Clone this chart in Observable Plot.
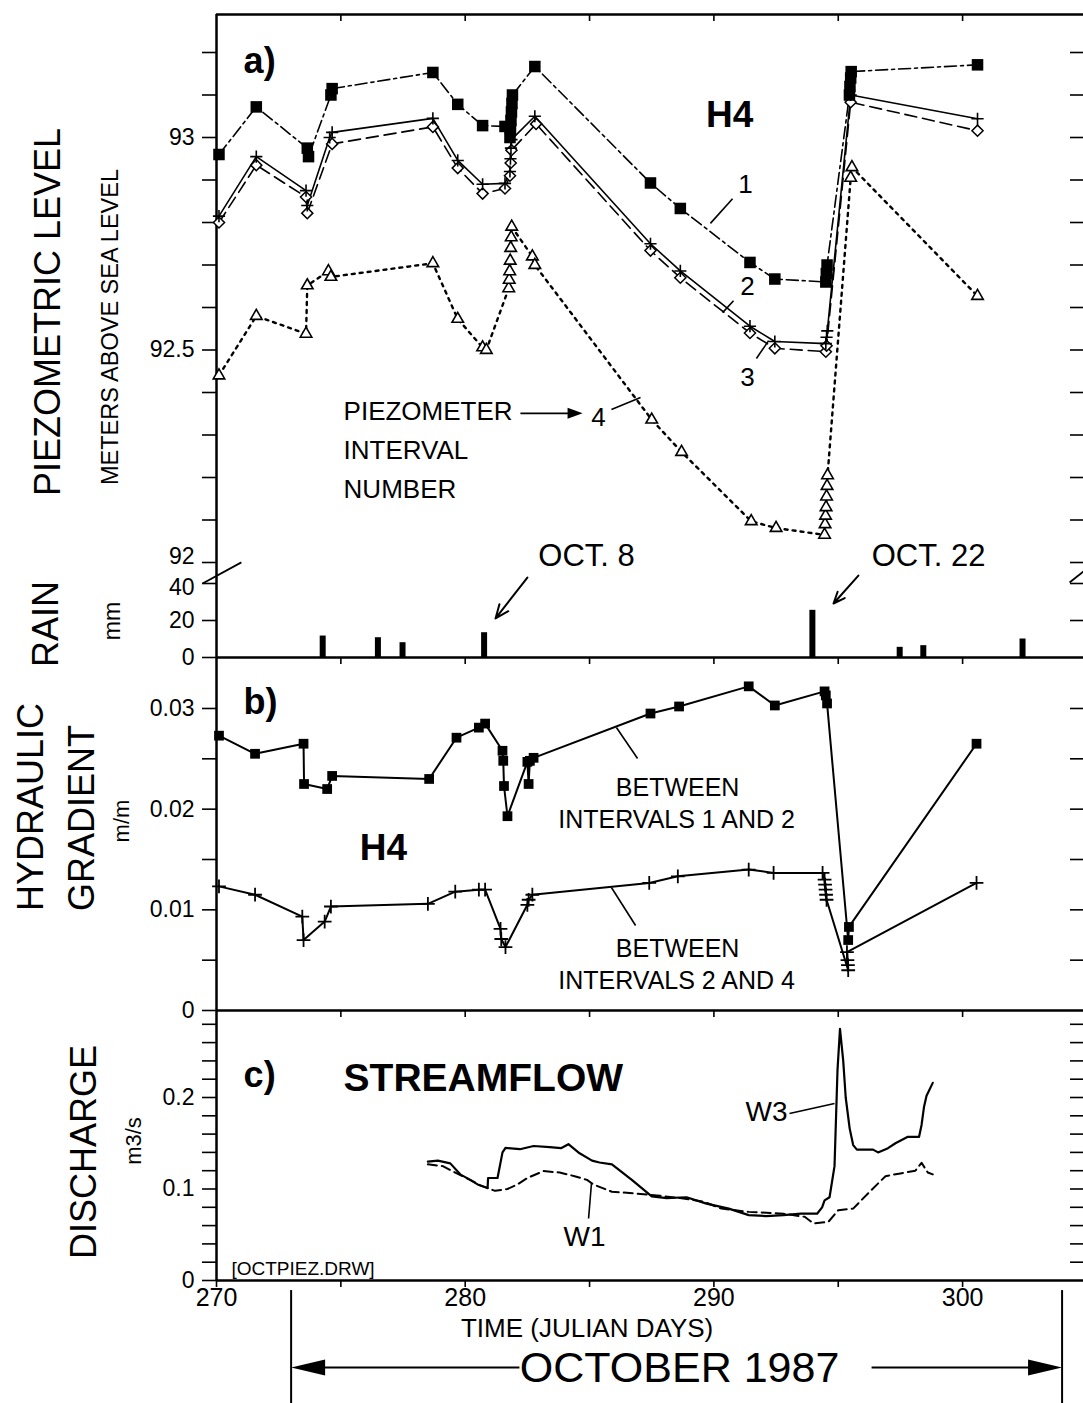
<!DOCTYPE html>
<html><head><meta charset="utf-8">
<script src="https://cdn.jsdelivr.net/npm/d3@7/dist/d3.min.js"></script>
<script src="https://cdn.jsdelivr.net/npm/@observablehq/plot@0.6/dist/plot.umd.min.js"></script>
<style>
html,body{margin:0;padding:0;background:#fff;}
#fig{position:relative;width:1083px;height:1403px;overflow:hidden;background:#fff;font-family:"Liberation Sans",Arial,sans-serif;}
</style></head>
<body><div id="fig"></div>
<script>
// ---------------- DATA ----------------
// a) piezometric level, m above sea level  [julian day, level]
const interval1 = [[270.1,92.96],[271.6,93.072],[273.65,92.975],[273.7,92.955],[274.6,93.10],[274.65,93.115],
  [278.7,93.153],[279.7,93.078],[280.7,93.028],[281.6,93.026],[281.8,93.00],[281.82,93.02],[281.84,93.04],
  [281.86,93.06],[281.88,93.08],[281.9,93.10],[282.8,93.167],[287.45,92.893],[288.65,92.833],[291.45,92.706],
  [292.45,92.667],[294.5,92.66],[294.52,92.68],[294.55,92.70],[295.45,93.10],[295.47,93.12],[295.5,93.14],
  [295.52,93.155],[300.6,93.171]];
const interval2 = [[270.1,92.815],[271.6,92.955],[273.6,92.875],[273.65,92.84],[274.55,93.0],[274.65,93.012],
  [278.7,93.045],[279.7,92.946],[280.7,92.89],[281.6,92.892],[281.8,92.92],[281.82,92.95],[281.84,92.975],
  [281.86,92.995],[282.8,93.05],[287.45,92.75],[288.65,92.686],[291.45,92.556],[292.45,92.52],[294.5,92.515],
  [294.53,92.53],[294.56,92.545],[295.5,93.10],[300.6,93.044]];
const interval3 = [[270.1,92.80],[271.6,92.935],[273.6,92.86],[273.65,92.822],[274.65,92.985],[278.7,93.025],
  [279.7,92.928],[280.7,92.868],[281.6,92.88],[281.8,92.91],[281.83,92.94],[281.86,92.97],[282.85,93.032],
  [287.45,92.734],[288.65,92.67],[291.45,92.54],[292.45,92.504],[294.5,92.496],[294.53,92.51],[295.5,93.083],
  [300.6,93.016]];
const interval4 = [[270.1,92.44],[271.6,92.58],[273.6,92.538],[273.65,92.652],[274.5,92.685],[274.6,92.672],
  [278.7,92.704],[279.7,92.573],[280.7,92.506],[280.85,92.50],[281.75,92.645],[281.77,92.665],[281.79,92.685],
  [281.81,92.71],[281.83,92.74],[281.85,92.765],[281.87,92.79],[282.7,92.72],[282.8,92.70],[287.5,92.336],
  [288.7,92.26],[291.5,92.097],[292.5,92.081],[294.45,92.065],[294.47,92.09],[294.49,92.11],[294.51,92.13],
  [294.53,92.155],[294.55,92.18],[294.57,92.205],[295.5,92.905],[295.55,92.93],[300.6,92.627]];
const levelTicks = [92,92.1,92.2,92.3,92.4,92.5,92.6,92.7,92.8,92.9,93,93.1,93.2];
const levelLabels = {92.5:"92.5", 93:"93"};
const levelBottomLabel = [92];

// rain, mm
const rainDays = [274.27,276.49,277.48,280.76,293.96,297.47,298.42,302.41];
const rainMm   = [11.6,10.7,8.0,13.4,25.5,5.5,6.4,10.0];
const rainTicks = [0,20,40];
const rainLabels = {0:"0", 20:"20"};
const rainTopLabel = [40];

// b) hydraulic gradient, m/m
const gradient12 = [[270.1,0.0273],[271.55,0.0255],[273.5,0.0265],[273.52,0.0225],[274.45,0.0220],[274.65,0.0233],
  [278.55,0.0230],[279.65,0.0271],[280.55,0.0281],[280.8,0.0285],[281.5,0.0258],[281.53,0.0248],[281.56,0.0223],
  [281.7,0.0193],[282.5,0.0247],[282.55,0.0225],[282.6,0.0248],[282.75,0.0251],[287.45,0.0295],[288.6,0.0302],
  [291.4,0.0322],[292.45,0.0303],[294.45,0.0317],[294.5,0.0313],[294.55,0.0305],[295.4,0.0070],[295.43,0.0083],
  [300.56,0.0265]];
const gradient24 = [[270.1,0.01233],[271.55,0.0115],[273.45,0.00933],[273.5,0.0070],[274.35,0.00883],[274.6,0.01033],
  [278.5,0.0106],[279.6,0.0118],[280.55,0.0120],[280.8,0.0120],[281.42,0.0081],[281.45,0.0071],[281.62,0.0063],
  [282.5,0.0105],[282.55,0.0110],[282.7,0.0115],[287.4,0.01267],[288.55,0.01333],[291.4,0.0140],[292.4,0.01367],
  [294.37,0.01367],[294.45,0.0130],[294.47,0.0125],[294.49,0.0120],[294.51,0.0115],[294.53,0.0110],[295.4,0.0040],
  [295.39,0.0045],[295.37,0.0050],[295.35,0.0058],[300.56,0.01267]];
const gradientTicks = [0,0.005,0.01,0.015,0.02,0.025,0.03];
const gradientLabels = {0:"0", 0.01:"0.01", 0.02:"0.02", 0.03:"0.03"};

// c) streamflow, m3/s
const flowW3 = [[278.5,0.130],[278.9,0.131],[279.4,0.128],[279.8,0.116],[280.2,0.110],[280.5,0.105],[280.9,0.101],
  [280.92,0.112],[281.3,0.112],[281.5,0.140],[281.62,0.145],[282.2,0.1435],[282.75,0.147],[283.4,0.1457],
  [283.85,0.1446],[284.15,0.149],[284.6,0.139],[285.1,0.131],[285.4,0.129],[285.9,0.127],[286.7,0.110],
  [287.5,0.092],[288.1,0.090],[288.9,0.091],[289.7,0.084],[290.6,0.0786],[291.4,0.0714],[292.1,0.0704],
  [292.8,0.0714],[293.5,0.073],[294.15,0.073],[294.35,0.080],[294.45,0.0875],[294.65,0.091],[294.85,0.125],
  [294.97,0.230],[295.07,0.275],[295.2,0.240],[295.3,0.200],[295.46,0.166],[295.6,0.148],[295.75,0.143],
  [296.4,0.143],[296.6,0.140],[297.0,0.1446],[297.3,0.150],[297.8,0.157],[298.25,0.157],[298.35,0.170],
  [298.45,0.190],[298.55,0.202],[298.8,0.216]];
const flowW1 = [[278.5,0.127],[279.1,0.125],[279.6,0.118],[280.2,0.110],[280.6,0.104],[281.0,0.100],[281.2,0.098],
  [281.7,0.100],[282.1,0.105],[282.5,0.112],[283.15,0.1196],[283.8,0.118],[284.4,0.114],[284.9,0.110],
  [285.15,0.105],[285.9,0.097],[286.9,0.095],[287.7,0.093],[288.7,0.090],[289.6,0.086],[290.3,0.0786],
  [291.4,0.075],[292.8,0.073],[293.65,0.0696],[294.0,0.0625],[294.6,0.064],[295.0,0.0768],[295.6,0.0786],
  [296.3,0.098],[296.9,0.114],[297.5,0.117],[298.1,0.120],[298.35,0.1286],[298.6,0.118],[298.8,0.116]];
const flowTicks = [0,0.02,0.04,0.06,0.08,0.1,0.12,0.14,0.16,0.18,0.2,0.22,0.24,0.26,0.28];
const flowLabels = {0:"0", 0.1:"0.1", 0.2:"0.2"};

const dayTicks = [270,275,280,285,290,295,300];
const dayLabels = {270:"270", 280:"280", 290:"290", 300:"300"};
const monthBounds = [273, 304];

// ---------------- LAYOUT ----------------
const FONT = "'Liberation Sans', Arial, Helvetica, sans-serif";
const fig = document.getElementById("fig");
const W = 1083, LEFT = 216, PX = 24.87, X0 = 270, X1 = X0 + (W - LEFT) / PX;
const T = d => d[0], V = d => d[1];
const LW = 2.5, TW = 1.6, TICKFONT = 23;

function mount(svg, top) {
  svg.style.position = "absolute"; svg.style.top = top + "px"; svg.style.left = "0px";
  svg.style.background = "transparent"; svg.style.overflow = "visible"; svg.style.maxWidth = "none";
  fig.appendChild(svg);
}
const base = (height, mt, mb, ydomain) => ({
  width: W, height, marginLeft: LEFT, marginRight: 0, marginTop: mt, marginBottom: mb,
  style: {fontFamily: FONT, background: "transparent", overflow: "visible"},
  x: {domain: [X0, X1], axis: null},
  y: {domain: ydomain, axis: null}
});
const leftAxis = (ticks, labels) => Plot.axisY({anchor: "left", ticks, tickFormat: d => labels[d] ?? "",
  tickSize: 14, tickPadding: 8, fontSize: TICKFONT, label: null, strokeWidth: TW, fontFamily: FONT});
// a single tick label nudged vertically (where two panels' labels meet)
const shiftedLabel = (vals, dy) => Plot.text(vals, {x: X0, y: d => d, text: d => String(d), dx: -22, dy,
  textAnchor: "end", fontSize: TICKFONT, fontFamily: FONT, fill: "black"});
const rightTicks = ticks => Plot.ruleY(ticks, {x1: X1 - 13 / PX, x2: X1, strokeWidth: TW});
const downTicks = (y, unit) => Plot.ruleX(dayTicks.slice(1), {x: d => d, y1: y, y2: y - 7 * unit, strokeWidth: TW});
const arrowRight = {draw(c) { c.moveTo(0, 0); c.lineTo(-15, -5.5); c.lineTo(-15, 5.5); c.closePath(); }};
const bigRight = {draw(c) { c.moveTo(0, 0); c.lineTo(-34, -8); c.lineTo(-34, 8); c.closePath(); }};
const bigLeft = {draw(c) { c.moveTo(0, 0); c.lineTo(34, -8); c.lineTo(34, 8); c.closePath(); }};
const txt = (data, size, opts = {}) => Plot.text(data, {x: "t", y: "y", text: "s", fontSize: size, fontFamily: FONT, fill: "black", ...opts});
const links = (data, w = 1.6) => Plot.link(data, {x1: d => d[0], y1: d => d[1], x2: d => d[2], y2: d => d[3], strokeWidth: w});

// ---- panel a: piezometric level ----
const A_PX = 425, A_TOP = 93 + (137 - 14) / A_PX, A_BOT = 93 - (572 - 137) / A_PX;
const panelA = Plot.plot({...base(572, 14, 0, [A_BOT, A_TOP]), marks: [
  Plot.ruleX([X0], {strokeWidth: LW}),
  Plot.ruleY([A_TOP], {strokeWidth: LW}),
  Plot.ruleX(dayTicks.slice(1), {x: d => d, y1: A_TOP, y2: A_TOP - 7 / A_PX, strokeWidth: TW}),
  leftAxis(levelTicks, levelLabels),
  shiftedLabel(levelBottomLabel, -6),
  rightTicks(levelTicks),
  Plot.line(interval4, {x: T, y: V, strokeWidth: 2.4, strokeDasharray: "3,5"}),
  Plot.line(interval3, {x: T, y: V, strokeWidth: 1.6, strokeDasharray: "12,6"}),
  Plot.line(interval2, {x: T, y: V, strokeWidth: 1.6}),
  Plot.line(interval1, {x: T, y: V, strokeWidth: 1.6, strokeDasharray: "12,4,3,4"}),
  Plot.dot(interval4, {x: T, y: V, symbol: "triangle2", r: 5.5, stroke: "black", fill: "white", strokeWidth: 1.6}),
  Plot.dot(interval3, {x: T, y: V, symbol: "diamond2", r: 5, stroke: "black", fill: "white", strokeWidth: 1.5}),
  Plot.dot(interval2, {x: T, y: V, symbol: "plus", r: 4, stroke: "black", strokeWidth: 1.6}),
  Plot.dot(interval1, {x: T, y: V, symbol: "square", r: 6.5, fill: "black"}),
  txt([{t: 271.09, y: 93.18, s: "a)"}], 36, {fontWeight: "bold", textAnchor: "start"}),
  txt([{t: 290.63, y: 93.052, s: "H4"}], 37, {fontWeight: "bold"}),
  txt([{t: 291.27, y: 92.89, s: "1"}, {t: 291.35, y: 92.648, s: "2"}, {t: 291.35, y: 92.436, s: "3"}, {t: 285.36, y: 92.341, s: "4"}], 26),
  txt([{t: 275.11, y: 92.355, s: "PIEZOMETER"}, {t: 275.11, y: 92.264, s: "INTERVAL"}, {t: 275.11, y: 92.172, s: "NUMBER"}], 26, {textAnchor: "start"}),
  txt([{t: 284.88, y: 92.014, s: "OCT. 8"}, {t: 298.63, y: 92.014, s: "OCT. 22"}], 31),
  links([[290.75, 92.856, 289.86, 92.798], [290.79, 92.616, 290.35, 92.588], [291.71, 92.48, 292.2, 92.522],
         [285.88, 92.36, 287.05, 92.388], [282.22, 92.351, 284.3, 92.351]]),
  Plot.dot([[284.72, 92.351]], {x: T, y: V, symbol: arrowRight, fill: "black", stroke: "none"})
]});
mount(panelA, 0);

// ---- rain ----
const R_PX = 1.85, R_TOP = 85 / R_PX;
const rainRows = rainDays.map((d, i) => ({day: d, mm: rainMm[i]}));
const panelR = Plot.plot({...base(96, 0, 11, [0, R_TOP]), marks: [
  Plot.ruleX([X0], {strokeWidth: LW}),
  Plot.ruleY([0], {strokeWidth: LW}),
  downTicks(0, 1 / R_PX),
  leftAxis(rainTicks, rainLabels),
  shiftedLabel(rainTopLabel, 4),
  rightTicks([20, 40]),
  Plot.ruleX(rainRows, {x: "day", y1: 0, y2: "mm", strokeWidth: 6}),
  Plot.arrow([[282.5, 43.2, 281.22, 21.1], [295.81, 44.3, 294.81, 29.2]], {x1: d => d[0], y1: d => d[1], x2: d => d[2], y2: d => d[3], headLength: 11, headAngle: 45, strokeWidth: 2}),
  links([[269.44, 40, 271.0, 51.4], [304.3, 40.5, 304.86, 46.5]], 1.8)
]});
mount(panelR, 572);

// ---- panel b: hydraulic gradient ----
const B_PX = 10067, B_TOP = 353 / B_PX;
const panelB = Plot.plot({...base(363, 0, 10, [0, B_TOP]), marks: [
  Plot.ruleX([X0], {strokeWidth: LW}),
  Plot.ruleY([0], {strokeWidth: LW}),
  downTicks(0, 1 / B_PX),
  leftAxis(gradientTicks, gradientLabels),
  rightTicks(gradientTicks.slice(1)),
  Plot.line(gradient12, {x: T, y: V, strokeWidth: 2}),
  Plot.line(gradient24, {x: T, y: V, strokeWidth: 2}),
  Plot.dot(gradient12, {x: T, y: V, symbol: "square", r: 5.5, fill: "black"}),
  Plot.dot(gradient24, {x: T, y: V, symbol: "plus", r: 4.5, stroke: "black", strokeWidth: 1.8}),
  txt([{t: 271.09, y: 0.03064, s: "b)"}], 36, {fontWeight: "bold", textAnchor: "start"}),
  txt([{t: 276.71, y: 0.01609, s: "H4"}], 37, {fontWeight: "bold"}),
  txt([{t: 288.54, y: 0.02215, s: "BETWEEN"}, {t: 288.5, y: 0.01897, s: "INTERVALS 1 AND 2"},
       {t: 288.54, y: 0.00606, s: "BETWEEN"}, {t: 288.5, y: 0.00298, s: "INTERVALS 2 AND 4"}], 25),
  links([[286.08, 0.02811, 286.93, 0.02503], [285.88, 0.01222, 286.85, 0.00844]])
]});
mount(panelB, 657);

// ---- panel c: streamflow ----
const C_PX = 915, C_TOP = 270 / C_PX;
const panelC = Plot.plot({...base(393, 0, 123, [0, C_TOP]), marks: [
  Plot.ruleX([X0], {strokeWidth: LW}),
  Plot.ruleY([0], {strokeWidth: LW}),
  Plot.axisX({anchor: "bottom", ticks: dayTicks, tickFormat: d => dayLabels[d] ?? "", tickSize: 7, tickPadding: 1,
              fontSize: 25, label: null, strokeWidth: TW, fontFamily: FONT}),
  leftAxis(flowTicks, flowLabels),
  rightTicks(flowTicks.slice(1)),
  Plot.line(flowW1, {x: T, y: V, strokeWidth: 2, strokeDasharray: "9,5"}),
  Plot.line(flowW3, {x: T, y: V, strokeWidth: 2.2}),
  txt([{t: 271.09, y: 0.2246, s: "c)"}], 36, {fontWeight: "bold", textAnchor: "start"}),
  txt([{t: 275.11, y: 0.2208, s: "STREAMFLOW"}], 39, {fontWeight: "bold", textAnchor: "start"}),
  txt([{t: 292.12, y: 0.1836, s: "W3"}, {t: 284.8, y: 0.047, s: "W1"}], 28),
  txt([{t: 270.6, y: 0.0131, s: "[OCTPIEZ.DRW]"}], 19, {textAnchor: "start"}),
  txt([{t: 284.9, y: -0.0525, s: "TIME (JULIAN DAYS)"}], 26),
  txt([{t: 288.62, y: -0.0962, s: "OCTOBER 1987"}], 43),
  links([[293.04, 0.1825, 294.85, 0.1935], [285.08, 0.1071, 284.96, 0.0678]]),
  Plot.ruleX(monthBounds, {x: d => d, y1: -0.011, y2: -0.1344, strokeWidth: 2}),
  links([[282.18, -0.0951, 274.3, -0.0951], [296.34, -0.0951, 302.8, -0.0951]], 2),
  Plot.dot([[monthBounds[0], -0.0951]], {x: T, y: V, symbol: bigLeft, fill: "black", stroke: "none"}),
  Plot.dot([[monthBounds[1], -0.0951]], {x: T, y: V, symbol: bigRight, fill: "black", stroke: "none"})
]});
mount(panelC, 1010);

// ---- outer (rotated) axis titles ----
const titles = [
  {x: 47, y: 312, size: 36, s: "PIEZOMETRIC LEVEL"},
  {x: 110, y: 327, size: 23.5, s: "METERS ABOVE SEA LEVEL"},
  {x: 45, y: 624, size: 36, s: "RAIN"},
  {x: 112, y: 621, size: 23, s: "mm"},
  {x: 30, y: 807, size: 36, s: "HYDRAULIC"},
  {x: 81, y: 818, size: 36, s: "GRADIENT"},
  {x: 121, y: 821, size: 22, s: "m/m"},
  {x: 83, y: 1152, size: 36, s: "DISCHARGE"},
  {x: 133, y: 1141, size: 22, s: "m3/s"}
];
const ov = d3.create("svg").attr("width", W).attr("height", 1403)
  .style("position", "absolute").style("top", "0px").style("left", "0px").style("overflow", "visible");
ov.selectAll("text").data(titles).join("text")
  .attr("transform", d => `translate(${d.x},${d.y}) rotate(-90)`)
  .attr("text-anchor", "middle").attr("dominant-baseline", "central")
  .attr("font-family", FONT).attr("font-size", d => d.size).attr("fill", "black")
  .text(d => d.s);
fig.appendChild(ov.node());
</script></body></html>
